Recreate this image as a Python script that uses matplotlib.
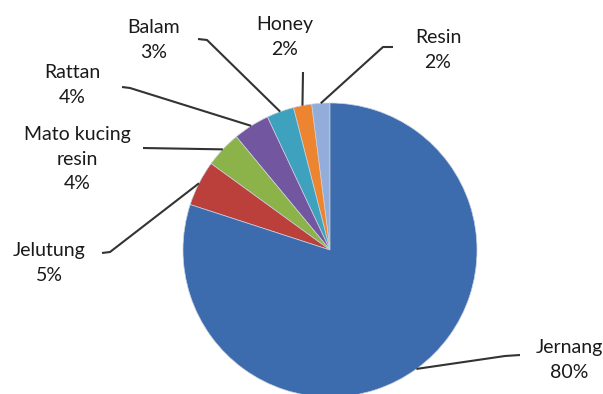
import matplotlib.pyplot as plt
import numpy as np

plt.rcParams['font.family'] = ['Lato', 'DejaVu Sans']

# data, counterclockwise from 12 o'clock
labels = ["Resin", "Honey", "Balam", "Rattan", "Mato kucing\nresin", "Jelutung", "Jernang"]
shares = [2, 2, 3, 4, 4, 5, 80]
colors = ["#93addb", "#ec8430", "#3ea2bf", "#7256a0", "#8cb34a", "#bb403c", "#3d6cae"]

# label block centres and leader elbows (pixel coords, y down)
label_xy = [(438, 50), (285, 37), (154, 40), (72, 85), (77, 159), (49, 263), (569, 360)]
elbows = [[(383, 47), (393, 47)],
          [(303, 72)],
          [(207, 40), (198, 39)],
          [(130, 88), (122, 87)],
          [(143, 148)],
          [(110, 252), (102, 253)],
          [(505, 356), (520, 355)]]

W, H = 603, 394
cx, cy, r = 330, 250, 147

fig = plt.figure(figsize=(W / 100, H / 100), dpi=100)
ax = fig.add_axes([0, 0, 1, 1])

# y axis is inverted, so clockwise in data = counterclockwise on screen
wedges, _ = ax.pie(shares, colors=colors, startangle=-90, counterclock=False,
                   center=(cx, cy), radius=r,
                   wedgeprops=dict(edgecolor="#c9d2de", linewidth=0.5))
ax.set_xlim(0, W)
ax.set_ylim(H, 0)
ax.set_aspect("equal")
ax.axis("off")

for w, lab, s, (tx, ty), pts in zip(wedges, labels, shares, label_xy, elbows):
    mid = np.deg2rad((w.theta1 + w.theta2) / 2)
    x0 = cx + r * np.cos(mid)
    y0 = cy + r * np.sin(mid)
    xs = [x0] + [p[0] for p in pts]
    ys = [y0] + [p[1] for p in pts]
    ax.plot(xs, ys, color="#333333", lw=1.5, solid_capstyle="butt", zorder=3)
    ax.text(tx, ty, f"{lab}\n{s}%", ha="center", va="center", fontsize=14,
            color="#1a1a1a", linespacing=1.55, zorder=4)

fig.savefig("out.png", dpi=100)
